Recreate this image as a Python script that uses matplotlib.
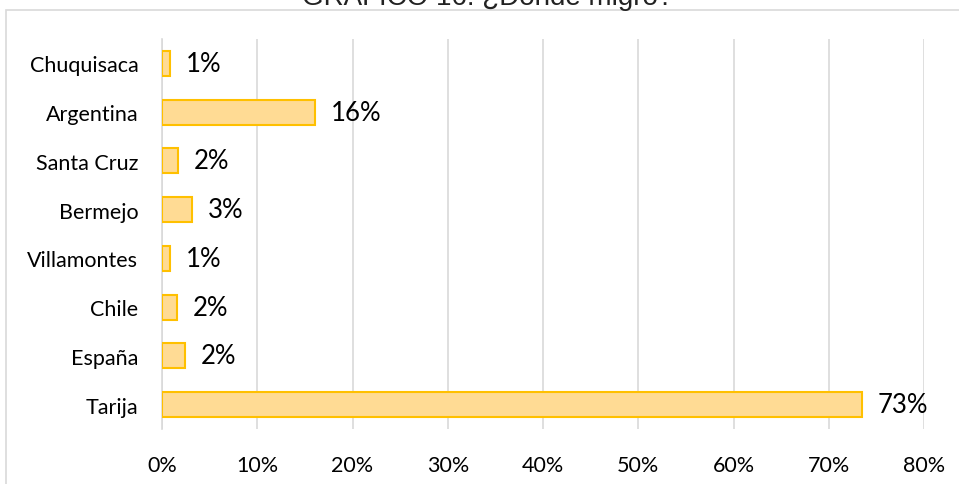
import matplotlib
matplotlib.use("Agg")
import matplotlib.pyplot as plt
from matplotlib.patches import Rectangle

categories = ["Chuquisaca", "Argentina", "Santa Cruz", "Bermejo",
              "Villamontes", "Chile", "España", "Tarija"]
values = [0.8, 16.1, 1.7, 3.1, 0.8, 1.6, 2.4, 73.5]
labels = ["1%", "16%", "2%", "3%", "1%", "2%", "2%", "73%"]
xticks = [0, 10, 20, 30, 40, 50, 60, 70, 80]
xticklabels = ["0%", "10%", "20%", "30%", "40%", "50%", "60%", "70%", "80%"]
title = "GRÁFICO 16: ¿Dónde migró?"

W, H = 959, 485
fig = plt.figure(figsize=(W / 100, H / 100), dpi=100)

# outer chart frame
fig.patches.append(Rectangle((6 / W, -0.1), 1.2, (H - 11) / H + 0.1,
                             transform=fig.transFigure, fill=False,
                             edgecolor="#D9D9D9", linewidth=1.2))

ax = fig.add_axes([162 / W, (H - 430) / H, (924 - 162) / W, 390 / H])
n = len(categories)
ypos = list(range(n))[::-1]
ax.barh(ypos, values, height=0.51, color="#FFDB94", edgecolor="#FFC000",
        linewidth=1.5, zorder=3)
for y, v, lab in zip(ypos, values, labels):
    ax.annotate(lab, (v, y), xytext=(11.5, 0), textcoords="offset points",
                va="center", ha="left", fontsize=18.5, family="Lato",
                color="black")

ax.set_xlim(0, 80)
ax.set_ylim(-0.5, n - 0.5)
ax.set_xticks(xticks)
ax.set_xticklabels(xticklabels, family="Lato", fontsize=15.5)
ax.set_yticks(ypos)
ax.set_yticklabels(categories, family="Lato", fontsize=15.5)
ax.tick_params(axis="both", length=0, colors="#404040")
ax.tick_params(axis="x", pad=19, labelcolor="black")
ax.tick_params(axis="y", pad=17, labelcolor="black")
ax.grid(axis="x", color="#D9D9D9", linewidth=1.2, zorder=0)
for s in ["top", "right", "bottom"]:
    ax.spines[s].set_visible(False)
ax.spines["left"].set_color("#D9D9D9")
ax.spines["left"].set_linewidth(1.2)

fig.text(488 / W, (H - 5) / H, title, ha="center", va="baseline",
         fontsize=20, family="Liberation Sans", color="#222222")

fig.savefig("out.png", dpi=100)
